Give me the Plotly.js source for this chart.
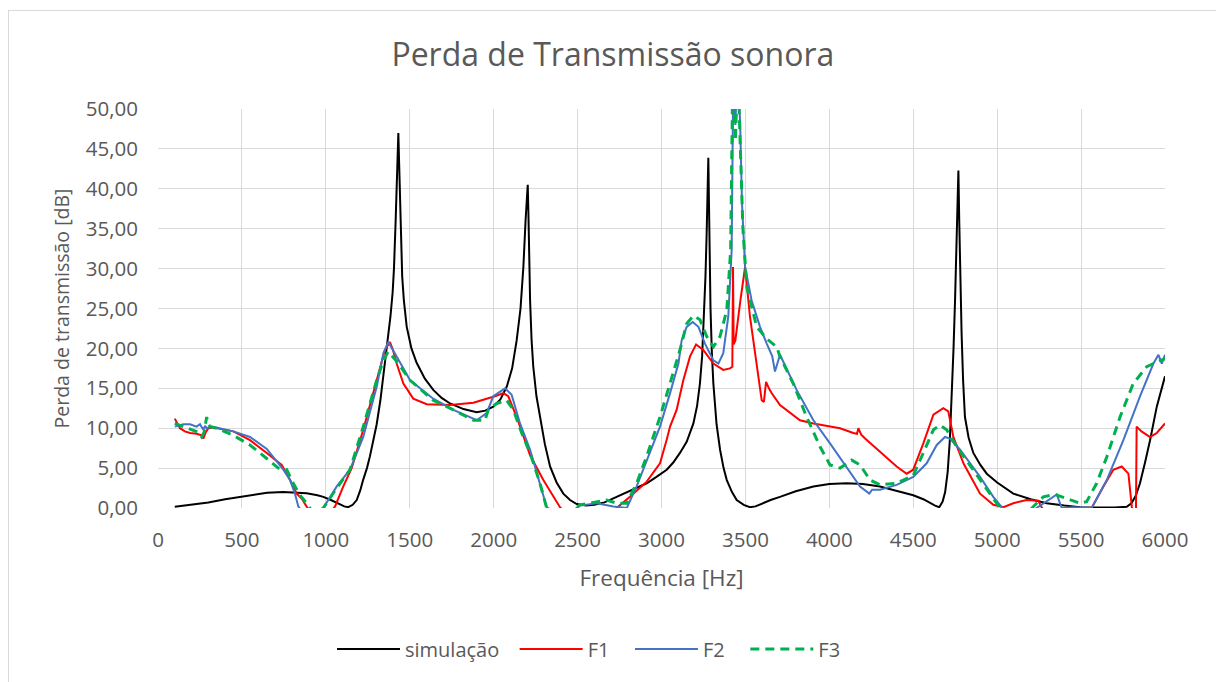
<!DOCTYPE html>
<html>
<head>
<meta charset="utf-8">
<script src="https://cdn.plot.ly/plotly-3.0.1.min.js"></script>
<style>
html,body{margin:0;padding:0;background:#fff;}
#frame{position:absolute;left:8px;top:10px;width:1220px;height:700px;border-top:1px solid #d9d9d9;border-left:1px solid #d9d9d9;box-sizing:border-box;}
#chart{position:absolute;left:0;top:0;width:1216px;height:682px;}
</style>
</head>
<body>
<div id="frame"></div>
<div id="chart"></div>
<script>
// ---- data ----
const seriesNames = ['simulação', 'F1', 'F2', 'F3'];

const simFreq = [100, 200, 300, 400, 548, 650, 745, 820, 886, 950, 985, 1030, 1080, 1110, 1133, 1160, 1184, 1205, 1222, 1245, 1263, 1285, 1303, 1325, 1342, 1360, 1372, 1385, 1398, 1406, 1416, 1425, 1432, 1437, 1442, 1448, 1455, 1465, 1482, 1510, 1541, 1590, 1640, 1690, 1740, 1820, 1899, 1950, 1998, 2040, 2078, 2110, 2137, 2160, 2177, 2190, 2198, 2203, 2207, 2212, 2217, 2226, 2236, 2255, 2276, 2305, 2336, 2375, 2415, 2455, 2495, 2550, 2600, 2660, 2713, 2800, 2912, 2970, 3031, 3070, 3110, 3150, 3190, 3212, 3229, 3242, 3253, 3262, 3269, 3275, 3279, 3283, 3287, 3292, 3300, 3309, 3328, 3349, 3370, 3389, 3420, 3448, 3490, 3527, 3560, 3600, 3650, 3706, 3800, 3905, 4000, 4103, 4200, 4302, 4400, 4500, 4560, 4600, 4630, 4655, 4675, 4690, 4705, 4718, 4729, 4740, 4749, 4756, 4763, 4769, 4774, 4779, 4788, 4797, 4808, 4830, 4858, 4900, 4938, 5000, 5096, 5200, 5295, 5400, 5494, 5600, 5700, 5772, 5800, 5825, 5851, 5880, 5911, 5951, 5980, 6000];
const simTL   = [0.15, 0.4, 0.7, 1.1, 1.6, 1.9, 2.0, 1.95, 1.84, 1.6, 1.4, 1.0, 0.5, 0.2, 0.1, 0.4, 1.0, 2.2, 3.5, 5.0, 6.5, 8.5, 10.5, 13.5, 16.5, 19.5, 21.5, 24, 27, 30, 36, 43, 47, 43, 38, 33, 29, 26, 22.7, 20, 18.2, 16.2, 14.8, 13.8, 13.1, 12.4, 12.0, 12.2, 12.7, 13.6, 15.2, 17.5, 21, 25, 30.2, 36, 39.5, 40.5, 37, 31, 26, 21, 17.7, 14, 11.4, 8, 5.2, 3.2, 1.8, 1.0, 0.5, 0.3, 0.4, 0.7, 1.2, 2.0, 3.1, 3.9, 4.8, 5.7, 6.9, 8.3, 10.6, 12.8, 15.6, 19, 24, 29, 34.4, 40, 43.9, 38, 31, 25, 19.5, 15.6, 10.5, 7.3, 5.0, 3.5, 2.0, 1.0, 0.4, 0.1, 0.2, 0.6, 1.0, 1.4, 2.1, 2.7, 3.0, 3.1, 3.0, 2.7, 2.2, 1.6, 1.1, 0.6, 0.3, 0.1, 0.8, 2.0, 4.5, 8.5, 13.5, 20, 26, 32, 38, 42.3, 36, 29, 21.9, 16, 11.4, 8.8, 6.9, 5.4, 4.3, 3.2, 1.8, 1.1, 0.6, 0.3, 0.1, 0.05, 0.05, 0.15, 0.6, 1.5, 3.1, 5.6, 8.5, 12.7, 14.8, 16.5];

const f1Freq = [100, 131, 160, 191, 230, 260, 270, 285, 300, 330, 449, 548, 648, 737, 787, 826, 856, 905, 960, 1030, 1055, 1104, 1154, 1223, 1303, 1352, 1382, 1400, 1422, 1462, 1521, 1601, 1740, 1879, 1958, 2008, 2058, 2087, 2137, 2217, 2296, 2395, 2450, 2700, 2733, 2812, 2912, 2991, 3030, 3051, 3090, 3130, 3170, 3206, 3249, 3309, 3368, 3408, 3422, 3426, 3430, 3440, 3470, 3498, 3527, 3567, 3597, 3610, 3623, 3640, 3656, 3706, 3825, 3905, 4064, 4143, 4165, 4173, 4190, 4213, 4302, 4401, 4461, 4500, 4560, 4620, 4679, 4709, 4739, 4799, 4898, 4977, 5037, 5096, 5176, 5245, 5265, 5300, 5530, 5563, 5633, 5692, 5742, 5782, 5802, 5812, 5826, 5831, 5860, 5911, 5951, 6000];
const f1TL   = [11.2, 10.0, 9.6, 9.4, 9.3, 9.1, 8.7, 9.5, 10.0, 10.1, 9.6, 8.5, 6.9, 5.4, 3.5, 1.8, 1.2, -0.5, -1.5, -0.5, 0.2, 2.7, 5.0, 9.8, 16, 19.8, 20.8, 19.8, 18.1, 15.6, 13.7, 13.0, 12.9, 13.2, 13.7, 14.0, 14.4, 14.0, 11.4, 6.6, 3.5, 0.1, -1, -1, 0, 1.4, 3.3, 5.6, 8.5, 10.2, 12.3, 16, 19, 20.5, 19.8, 18.1, 17.3, 17.5, 17.7, 30.2, 20.5, 21, 26, 30.2, 24, 18.1, 13.5, 13.3, 15.8, 15, 14.4, 12.9, 11.0, 10.6, 10.0, 9.4, 9.3, 10.0, 9.2, 8.7, 7.1, 5.2, 4.3, 4.8, 8.1, 11.7, 12.5, 12.1, 8.9, 5.6, 1.8, 0.4, 0.1, 0.6, 1.0, 0.9, 0.1, -1, -1, 0, 2.7, 4.8, 5.2, 4.3, 0.2, -3, -3, 10.2, 9.6, 8.9, 9.4, 10.6];

const f2Freq = [100, 151, 191, 230, 250, 262, 270, 280, 290, 320, 449, 548, 648, 747, 787, 816, 836, 860, 900, 950, 985, 1065, 1144, 1223, 1303, 1343, 1372, 1422, 1502, 1640, 1760, 1899, 1958, 1998, 2068, 2107, 2157, 2217, 2276, 2316, 2400, 2480, 2514, 2614, 2713, 2793, 2852, 2912, 2991, 3051, 3101, 3120, 3150, 3186, 3220, 3259, 3309, 3339, 3368, 3398, 3418, 3428, 3440, 3452, 3468, 3480, 3498, 3537, 3587, 3627, 3660, 3676, 3706, 3805, 3905, 4004, 4103, 4183, 4238, 4255, 4302, 4401, 4500, 4580, 4640, 4689, 4719, 4779, 4898, 4977, 5027, 5100, 5200, 5235, 5355, 5385, 5454, 5563, 5653, 5752, 5851, 5931, 5961, 5981, 6000];
const f2TL   = [10.2, 10.5, 10.5, 10.2, 10.5, 10.0, 9.8, 10.3, 10.0, 10.2, 9.6, 8.9, 7.4, 4.8, 3.5, 1.8, 0.2, -0.5, -0.5, -0.3, 0, 2.7, 4.8, 8.9, 15.2, 19.4, 20.8, 19.0, 16, 13.7, 12.3, 11.0, 11.9, 14.0, 15.0, 14.2, 10.6, 7.3, 3.1, 0.1, -1, -0.2, 0.3, 0.6, 0.2, 0, 2.7, 6.0, 10.2, 14.4, 18.1, 21, 22.7, 23.3, 22.7, 20.6, 18.5, 18.1, 19.4, 24, 32.3, 55, 48, 55, 48.6, 38, 30.2, 26, 22.7, 20.6, 19.0, 17.1, 19.2, 14.8, 11.0, 8.1, 5.2, 2.7, 1.8, 2.3, 2.3, 2.9, 3.9, 5.6, 7.9, 8.9, 8.7, 7.3, 3.9, 1.4, 0.1, -1, -0.5, 0, 1.7, 0, 0.1, 0, 3.5, 8.5, 14.0, 18.1, 19.2, 18.1, 19.2];

const f3Freq = [100, 151, 211, 240, 260, 275, 290, 300, 310, 350, 449, 548, 648, 717, 767, 806, 846, 886, 920, 960, 985, 1065, 1144, 1223, 1303, 1343, 1372, 1422, 1502, 1640, 1760, 1879, 1948, 1968, 2018, 2078, 2117, 2167, 2217, 2276, 2316, 2400, 2480, 2514, 2574, 2673, 2733, 2793, 2852, 2912, 2991, 3051, 3110, 3150, 3190, 3229, 3269, 3309, 3349, 3389, 3412, 3425, 3440, 3455, 3470, 3485, 3508, 3567, 3627, 3686, 3706, 3785, 3865, 3944, 4004, 4064, 4133, 4183, 4243, 4302, 4401, 4500, 4560, 4620, 4659, 4699, 4759, 4858, 4958, 5017, 5100, 5200, 5216, 5275, 5345, 5414, 5494, 5533, 5593, 5653, 5732, 5811, 5891, 5951, 6000];
const f3TL   = [10.6, 10.2, 9.8, 9.5, 8.9, 9.5, 11.4, 10.5, 10.2, 10.0, 9.1, 7.9, 6.2, 5.0, 4.8, 3.1, 1.6, 0.6, -0.5, -0.5, 0, 2.5, 4.8, 10.2, 16, 18.5, 19.6, 18.4, 16, 13.5, 12.3, 11.0, 11.0, 12.3, 13.1, 13.5, 12.3, 9.4, 6.9, 3.1, 0, -1, -0.2, 0.4, 0.6, 1.0, 0.6, 0.6, 3.1, 6.5, 11.4, 15.6, 19.8, 23.1, 24.1, 23.6, 21.5, 20.2, 21.5, 24.8, 32.3, 55, 46, 55, 45, 35, 27.7, 22.7, 21.2, 20.2, 19.0, 15.6, 11.4, 7.7, 5.4, 5.0, 6.0, 5.4, 3.5, 2.9, 3.1, 4.1, 6.9, 9.8, 10.4, 9.8, 7.7, 4.8, 1.8, 0, -1, -0.2, 0.2, 1.4, 1.7, 1.2, 0.6, 0.8, 3.1, 6.4, 11.4, 15.6, 17.7, 18.3, 18.7];

const xTicks = [0, 500, 1000, 1500, 2000, 2500, 3000, 3500, 4000, 4500, 5000, 5500, 6000];
const yTicks = [0, 5, 10, 15, 20, 25, 30, 35, 40, 45, 50];

const FONT = 'Open Sans, DejaVu Sans, sans-serif';
const GREY = '#595959';
const NB = '\u00a0';

const traces = [
  {x: simFreq, y: simTL, name: seriesNames[0] + NB + NB, mode: 'lines', line: {color: '#000000', width: 2}},
  {x: f1Freq, y: f1TL, name: seriesNames[1] + NB + NB + NB, mode: 'lines', line: {color: '#FF0000', width: 2}},
  {x: f2Freq, y: f2TL, name: seriesNames[2] + NB + NB + NB, mode: 'lines', line: {color: '#4472C4', width: 2}},
  {x: f3Freq, y: f3TL, name: seriesNames[3], mode: 'lines', line: {color: '#00B050', width: 3, dash: '9px,6px'}}
];

const layout = {
  width: 1216, height: 682,
  margin: {l: 158, r: 51, t: 109, b: 174},
  paper_bgcolor: 'rgba(0,0,0,0)',
  plot_bgcolor: 'rgba(0,0,0,0)',
  font: {family: FONT, color: GREY, size: 20},
  title: {text: 'Perda de Transmissão sonora', font: {family: FONT, size: 32, color: GREY},
          x: 0.504, xref: 'container', xanchor: 'center', y: 1 - 55/682, yref: 'container', yanchor: 'middle'},
  separators: ',.',
  xaxis: {
    range: [0, 6000], tickvals: xTicks, ticktext: xTicks.map(String),
    showgrid: true, gridcolor: '#d9d9d9', gridwidth: 1, zeroline: false, showline: false,
    ticks: '', ticklabelstandoff: 17, tickfont: {size: 20.5, color: GREY, family: FONT},
    title: {text: 'Frequência [Hz]', font: {size: 22.5, color: GREY, family: FONT}, standoff: 18},
    fixedrange: true
  },
  yaxis: {
    range: [0, 50], tickvals: yTicks, tickformat: '.2f',
    showgrid: true, gridcolor: '#d9d9d9', gridwidth: 1, zeroline: false, showline: false,
    ticks: '', ticklabelstandoff: 19, tickfont: {size: 20.5, color: GREY, family: FONT},
    title: {text: 'Perda de transmissão [dB]' + NB.repeat(5), font: {size: 19.5, color: GREY, family: FONT}, standoff: 10},
    fixedrange: true
  },
  showlegend: true,
  legend: {orientation: 'h', x: 0.428, xanchor: 'center', y: (508-649)/399, yanchor: 'middle',
           font: {size: 20, color: GREY, family: FONT}, itemwidth: 63, bgcolor: 'rgba(0,0,0,0)'}
};

Plotly.newPlot('chart', traces, layout, {displayModeBar: false, staticPlot: true});
</script>
</body>
</html>
